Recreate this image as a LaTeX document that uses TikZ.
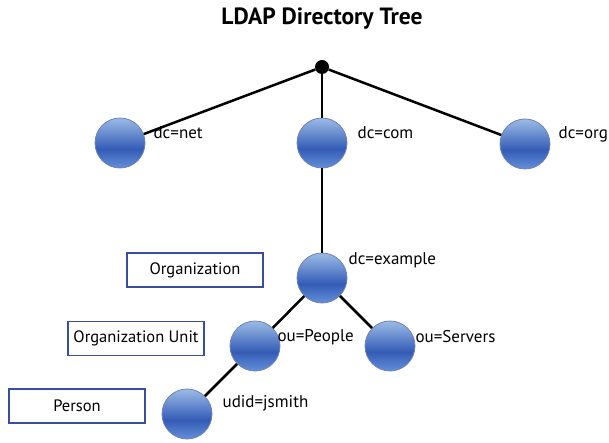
\documentclass[tikz,border=0pt]{standalone}
\usepackage{fontspec}
\setmainfont{PT Sans}
\usetikzlibrary{positioning}
\definecolor{ballhi}{RGB}{186,216,244}
\definecolor{ballmid}{RGB}{52,92,182}
\definecolor{balllo}{RGB}{108,152,222}
\definecolor{ballrim}{RGB}{110,130,186}
\definecolor{boxblue}{RGB}{58,78,160}
\pgfdeclareverticalshading{ldapball}{100bp}{color(0bp)=(balllo); color(22bp)=(balllo);
  color(44bp)=(ballmid); color(62bp)=(ballmid!55!ballhi); color(85bp)=(ballhi); color(100bp)=(ballhi)}
\tikzset{
  entry/.style={circle, minimum size=50pt, inner sep=0pt, draw=ballrim, line width=0.8pt,
    shading=ldapball, shading angle=0},
  dn/.style={font=\fontsize{17}{20}\selectfont, inner sep=0pt, anchor=west},
  level/.style={draw=boxblue, line width=1.5pt, minimum width=136pt, minimum height=34pt,
    font=\fontsize{16.5}{20}\selectfont},
  link/.style={line width=2.5pt, black}
}

\begin{document}
\begin{tikzpicture}[x=1pt, y=-1pt]
\useasboundingbox (0,0) rectangle (609,443);

% title
\node[font=\fontsize{23.5}{28}\selectfont\bfseries] (title) at (322,19) {LDAP Directory Tree};

% root and tree entries
\node[circle, fill=black, inner sep=0pt, minimum size=14pt] (root) at (322,67) {};
\node[entry] (net) at (120,143) {};
\node[entry] (com) at (322,143) {};
\node[entry] (org) at (525,144) {};
\node[entry] (example) at (322,278) {};
\node[entry] (people) at (255,346) {};
\node[entry] (servers) at (390,346) {};
\node[entry] (jsmith) at (187,414) {};

\draw[link] (root) -- (net);
\draw[link] (root) -- (com);
\draw[link] (root) -- (org);
\draw[link] (com) -- (example);
\draw[link] (example) -- (people);
\draw[link] (example) -- (servers);
\draw[link] (people) -- (jsmith);

% entry names
\node[dn, right=8pt of net, yshift=10pt] (netname) {dc=net};
\node[dn, right=10pt of com, yshift=10pt] (comname) {dc=com};
\node[dn, right=8pt of org, yshift=10pt] (orgname) {dc=org};
\node[dn, right=1pt of example, yshift=18pt] (examplename) {dc=example};
\node[dn, right=-3pt of people, yshift=9pt] (peoplename) {ou=People};
\node[dn, right=0pt of servers, yshift=9pt] (serversname) {ou=Servers};
\node[dn, right=10pt of jsmith, yshift=11pt] (jsmithname) {udid=jsmith};

% level boxes
\node[level] (orgbox) at (195,270) {Organization};
\node[level] (unitbox) at (136,338.5) {Organization Unit};
\node[level] (personbox) at (77,406) {Person};
\end{tikzpicture}
\end{document}
